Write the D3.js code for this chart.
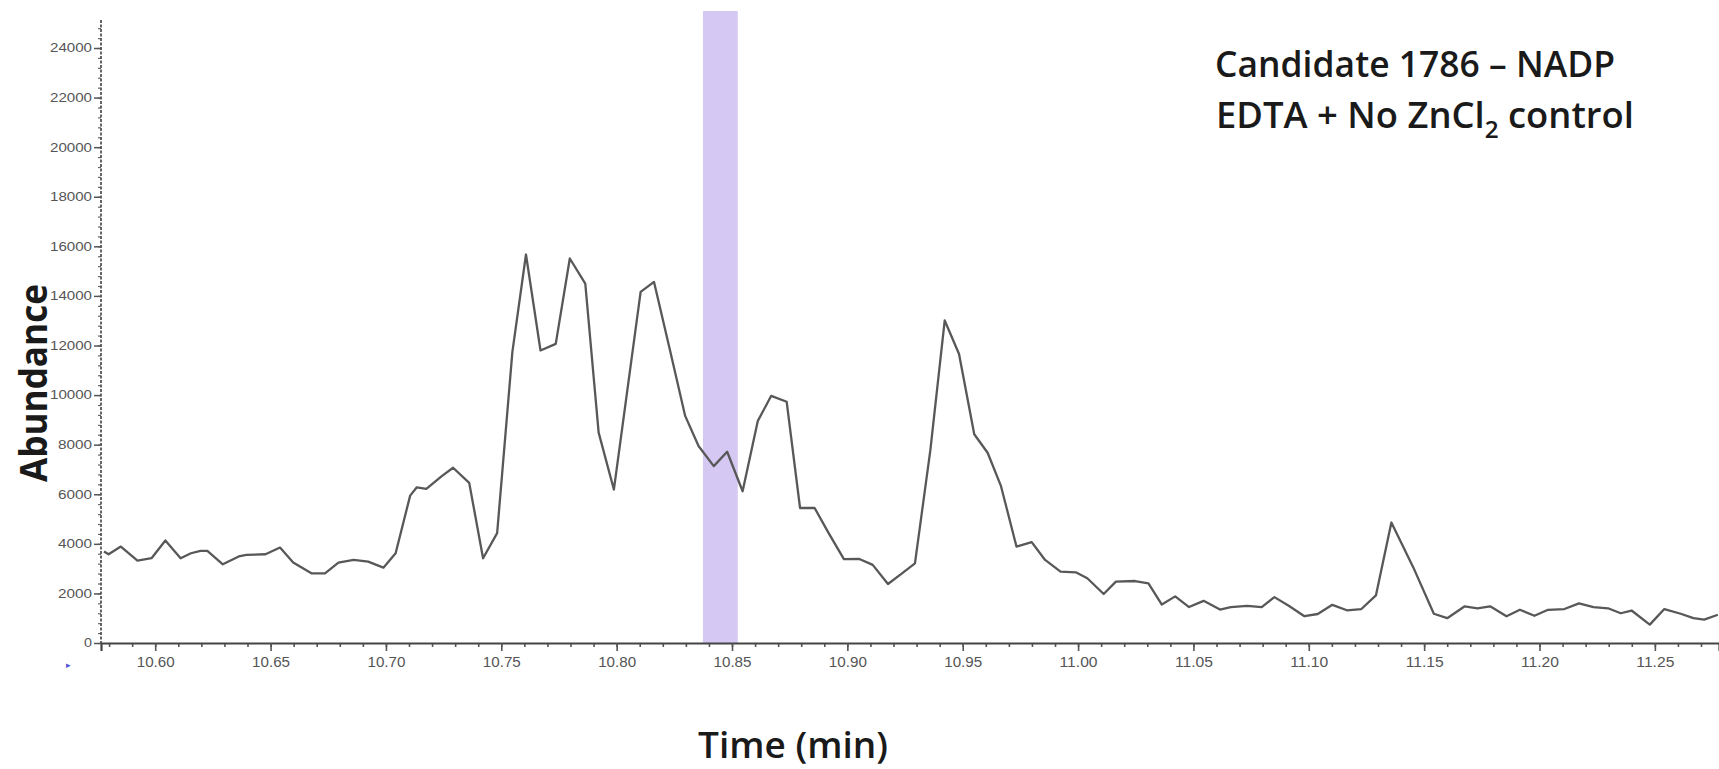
<!DOCTYPE html>
<html>
<head>
<meta charset="utf-8">
<script src="https://cdn.jsdelivr.net/npm/d3@7"></script>
<style>
  html, body { margin: 0; padding: 0; background: #fff; }
  svg { display: block; }
</style>
</head>
<body>
<svg id="chart" width="1719" height="769"></svg>
<script>
// Extracted ion chromatogram: retention time (min) vs. abundance
const times = [
  10.5778, 10.5798, 10.5851, 10.5923, 10.5984, 10.6044, 10.6110, 10.6155, 10.6196, 10.6226,
  10.6293, 10.6362, 10.6395, 10.6478, 10.6541, 10.6598, 10.6677, 10.6736, 10.6794, 10.6860,
  10.6923, 10.6989, 10.7042, 10.7105, 10.7134, 10.7175, 10.7242, 10.7291, 10.7361, 10.7421,
  10.7482, 10.7548, 10.7607, 10.7670, 10.7736, 10.7797, 10.7864, 10.7922, 10.7988, 10.8104,
  10.8162, 10.8230, 10.8297, 10.8355, 10.8421, 10.8479, 10.8546, 10.8612, 10.8670, 10.8737,
  10.8795, 10.8858, 10.8919, 10.8985, 10.9052, 10.9110, 10.9176, 10.9234, 10.9293, 10.9360,
  10.9422, 10.9484, 10.9550, 10.9608, 10.9666, 10.9733, 10.9799, 10.9857, 10.9924, 10.9990,
  11.0040, 11.0111, 11.0164, 11.0247, 11.0305, 11.0363, 11.0421, 11.0481, 11.0544, 11.0615,
  11.0662, 11.0733, 11.0796, 11.0851, 11.0913, 11.0981, 11.1039, 11.1102, 11.1165, 11.1228,
  11.1291, 11.1358, 11.1453, 11.1542, 11.1600, 11.1676, 11.1731, 11.1786, 11.1857, 11.1915,
  11.1978, 11.2037, 11.2108, 11.2171, 11.2234, 11.2297, 11.2352, 11.2399, 11.2478, 11.2541,
  11.2612, 11.2667, 11.2714, 11.2773
];
const abundance = [
  3690, 3580, 3890, 3325, 3420, 4135, 3420, 3620, 3715, 3715,
  3175, 3490, 3555, 3580, 3850, 3245, 2810, 2810, 3245, 3350,
  3280, 3040, 3620, 5945, 6280, 6215, 6730, 7070, 6460, 3420,
  4430, 11730, 15670, 11800, 12065, 15510, 14500, 8485, 6190, 14160,
  14565, 11860, 9160, 7945, 7135, 7715, 6120, 8960, 9970, 9730,
  5445, 5445, 4430, 3380, 3390, 3150, 2380, 2785, 3215, 7800,
  13010, 11660, 8420, 7675, 6325, 3890, 4070, 3350, 2880, 2850,
  2610, 1975, 2475, 2500, 2405, 1550, 1880, 1450, 1700, 1350,
  1450, 1500, 1450, 1850, 1500, 1080, 1170, 1540, 1320, 1370,
  1920, 4860, 3050, 1180, 1000, 1480, 1400, 1480, 1080, 1340,
  1100, 1340, 1370, 1600, 1450, 1400, 1200, 1310, 740, 1370,
  1180, 1000, 940, 1140
];

// Axis ticks
const xTickValues = [10.60, 10.65, 10.70, 10.75, 10.80, 10.85, 10.90, 10.95, 11.00, 11.05, 11.10, 11.15, 11.20, 11.25];
const xTickLabels = ["10.60", "10.65", "10.70", "10.75", "10.80", "10.85", "10.90", "10.95", "11.00", "11.05", "11.10", "11.15", "11.20", "11.25"];
const yTickValues = [0, 2000, 4000, 6000, 8000, 10000, 12000, 14000, 16000, 18000, 20000, 22000, 24000];

// Highlighted retention window
const bandWindow = [10.8374, 10.8525];

// Text
const titleLine1 = "Candidate 1786 \u2013 NADP";
const titleLine2 = ["EDTA + No ZnCl", "2", " control"];
const xTitle = "Time (min)";
const yTitle = "Abundance";

const svg = d3.select("#chart");

const x = d3.scaleLinear().domain([10.5765, 11.2778]).range([101, 1719]);
const y = d3.scaleLinear().domain([0, 24000]).range([643, 48]);

// highlighted window
svg.append("rect")
  .attr("x", x(bandWindow[0]))
  .attr("y", 11)
  .attr("width", x(bandWindow[1]) - x(bandWindow[0]))
  .attr("height", y(0) - 11)
  .attr("fill", "#d5c9f3");

// x axis: major ticks with labels, minor ticks every 0.01
const minorX = d3.range(10.58, 11.2801, 0.01);
const xMinor = d3.axisBottom(x).tickValues(minorX).tickSize(4).tickFormat("");
svg.append("g").attr("transform", `translate(0,${y(0)})`).call(xMinor)
  .call(g => g.select(".domain").remove())
  .selectAll("line").attr("stroke", "#555").attr("stroke-width", 1.6);

const xAxis = d3.axisBottom(x).tickValues(xTickValues)
  .tickFormat((d, i) => xTickLabels[i]).tickSize(8).tickPadding(5);
const gx = svg.append("g").attr("transform", `translate(0,${y(0)})`).call(xAxis);
gx.select(".domain").attr("stroke", "#444").attr("stroke-width", 2.2);
gx.selectAll(".tick line").attr("stroke", "#555").attr("stroke-width", 1.6);
gx.selectAll(".tick text")
  .attr("fill", "#555")
  .attr("font-family", "Liberation Sans, Arial, sans-serif")
  .attr("font-size", 15)
  .attr("textLength", 38)
  .attr("lengthAdjust", "spacingAndGlyphs");

// y axis: dotted spine with minor ticks
const minorY = d3.range(0, 25001, 400);
const yMinor = d3.axisLeft(y).tickValues(minorY).tickSize(3).tickFormat("");
svg.append("g").attr("transform", `translate(${x.range()[0]},0)`).call(yMinor)
  .call(g => g.select(".domain").remove())
  .selectAll("line").attr("stroke", "#666").attr("stroke-width", 1.2);

const yAxis = d3.axisLeft(y).tickValues(yTickValues).tickSize(7).tickPadding(2)
  .tickFormat(d3.format("d"));
const gy = svg.append("g").attr("transform", `translate(${x.range()[0]},0)`).call(yAxis);
gy.select(".domain").remove();
gy.append("line")
  .attr("x1", 0).attr("x2", 0).attr("y1", 20).attr("y2", y(0))
  .attr("stroke", "#555").attr("stroke-width", 1.8)
  .attr("stroke-dasharray", "3 1.5");
gy.selectAll(".tick line").attr("stroke", "#555").attr("stroke-width", 1.5);
gy.selectAll(".tick text")
  .attr("fill", "#555")
  .attr("font-family", "Liberation Sans, Arial, sans-serif")
  .attr("font-size", 12)
  .attr("textLength", d => d === 0 ? 8 : (d < 10000 ? 34 : 42))
  .attr("lengthAdjust", "spacingAndGlyphs");

// small marker below the origin
svg.append("text")
  .attr("x", 66).attr("y", 668)
  .attr("fill", "#4b55d8")
  .attr("font-family", "DejaVu Sans, sans-serif")
  .attr("font-size", 9)
  .text("\u25B8");

// chromatogram trace
const pts = times.map((t, i) => [t, abundance[i]]);
const line = d3.line().x(d => x(d[0])).y(d => y(d[1]));
svg.append("path")
  .datum(pts)
  .attr("d", line)
  .attr("fill", "none")
  .attr("stroke", "#585858")
  .attr("stroke-width", 2.3)
  .attr("stroke-linejoin", "round");

// axis titles
const headFont = "Open Sans, Noto Sans, sans-serif";
svg.append("text")
  .attr("transform", "translate(47,383) rotate(-90)")
  .attr("text-anchor", "middle")
  .attr("font-family", headFont)
  .attr("font-weight", 700)
  .attr("font-size", 38)
  .attr("fill", "#1a1a1a")
  .attr("textLength", 198)
  .attr("lengthAdjust", "spacingAndGlyphs")
  .text(yTitle);

svg.append("text")
  .attr("x", 793).attr("y", 758)
  .attr("text-anchor", "middle")
  .attr("font-family", headFont)
  .attr("font-weight", 600)
  .attr("font-size", 36)
  .attr("fill", "#1a1a1a")
  .attr("textLength", 190)
  .attr("lengthAdjust", "spacingAndGlyphs")
  .text(xTitle);

// title block, top right
svg.append("text")
  .attr("x", 1215).attr("y", 77)
  .attr("font-family", headFont)
  .attr("font-weight", 600)
  .attr("font-size", 36)
  .attr("fill", "#1a1a1a")
  .attr("textLength", 400)
  .attr("lengthAdjust", "spacingAndGlyphs")
  .text(titleLine1);

const t2 = svg.append("text")
  .attr("x", 1216).attr("y", 128)
  .attr("font-family", headFont)
  .attr("font-weight", 600)
  .attr("font-size", 36)
  .attr("fill", "#1a1a1a");
t2.append("tspan").text(titleLine2[0]);
t2.append("tspan").attr("dy", 10).attr("font-size", 24).text(titleLine2[1]);
t2.append("tspan").attr("dy", -10).text(titleLine2[2]);
// fit second line to its measured width
{
  const w = t2.node().getComputedTextLength();
  const target = 418;
  const k = target / w;
  t2.attr("transform", `translate(${1216 * (1 - k)},0) scale(${k},1)`);
}
</script>
</body>
</html>
